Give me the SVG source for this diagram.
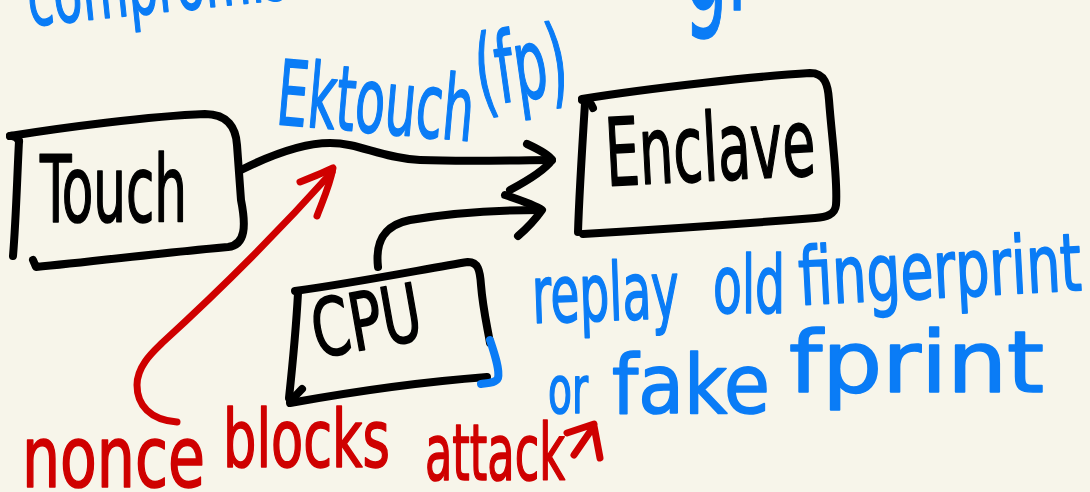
<svg xmlns="http://www.w3.org/2000/svg" width="1090" height="492" viewBox="0 0 1090 492">
  <style>
    .hand { font-family: "DejaVu Sans Condensed", "Liberation Sans Narrow", "Liberation Sans", sans-serif; stroke-width: 1.6; stroke-linejoin: round; }
    .ink { fill: none; stroke: #000; stroke-width: 8; stroke-linecap: round; stroke-linejoin: round; }
    .red { fill: none; stroke: #cf0000; stroke-width: 7; stroke-linecap: round; stroke-linejoin: round; }
    .blueline { fill: none; stroke: #0a7cf6; stroke-width: 8; stroke-linecap: round; stroke-linejoin: round; }
    .black { fill: #000; stroke: #000; }
    .blue { fill: #0a7cf6; stroke: #0a7cf6; }
    .redtxt { fill: #cf0000; stroke: #cf0000; }
  </style>
  <rect width="1090" height="492" fill="#f7f5ea"/>

  <!-- heading line, running off the top edge -->
  <g id="heading" class="hand blue">
    <text x="30" y="26" font-size="82" textLength="320" lengthAdjust="spacingAndGlyphs" transform="rotate(-6 30 26)">compromised</text>
    <text x="684" y="10" font-size="140" textLength="72" lengthAdjust="spacingAndGlyphs">gr</text>
  </g>

  <!-- connectors -->
  <g id="connectors">
    <path class="ink" d="M241,170 C265,158 300,143 330,143 C360,143 380,158 420,160 C470,162 520,160 552,160"/>
    <path class="ink" d="M527,144 C540,150 549,155 552,160 C545,170 525,182 510,190"/>
    <path class="ink" d="M378,267 C375,240 385,225 410,220 C450,213 500,210 540,210"/>
    <path class="ink" d="M505,195 C520,200 535,205 542,210 C535,220 525,230 518,236"/>
    <path class="red" d="M177,422 C150,420 137,405 137,385 C137,365 155,350 162,343 C220,290 280,230 332,172"/>
    <path class="red" d="M300,182 C315,176 325,172 333,168 C330,185 323,200 317,216"/>
    <path class="red" d="M567,433 L594,424 M574,455 L594,426 L600,458"/>
  </g>

  <g id="touch">
    <path class="ink" d="M10,136 C60,128 150,116 205,114 C228,114 236,128 237,145 L241,200 C246,225 246,245 228,247 C170,252 90,262 36,267 L33,260"/>
    <path class="ink" d="M19,141 C17,180 16,220 13,256"/>
    <path class="ink" d="M10,136 Q16,135 19,141"/>
    <text class="hand black" x="40" y="222" font-size="92" textLength="147" lengthAdjust="spacingAndGlyphs">Touch</text>
  </g>

  <g id="enclave">
    <path class="ink" d="M582,99 C650,88 760,76 810,73 C825,73 828,85 829,100 C832,140 838,180 836,205 C835,215 826,217 815,218 C740,224 650,230 583,234"/>
    <path class="ink" d="M585,103 C582,150 579,200 578,232"/>
    <path class="ink" d="M582,100 Q590,100 593,108"/>
    <text class="hand black" x="607" y="186" font-size="94" textLength="210" lengthAdjust="spacingAndGlyphs" transform="rotate(-3 607 186)">Enclave</text>
  </g>

  <g id="cpu">
    <path class="ink" d="M295,291 C360,282 430,268 468,262 C478,262 480,270 481,285 C483,310 488,330 490,343"/>
    <path class="ink" d="M487,377 C420,382 340,394 290,403"/>
    <path class="ink" d="M298,293 C296,330 292,370 289,398"/>
    <path class="ink" d="M290,400 Q296,396 302,389"/>
    <path class="blueline" d="M490,340 C495,355 500,370 498,378 C496,383 488,383 481,384"/>
    <text class="hand black" x="317" y="358" font-size="80" textLength="110" lengthAdjust="spacingAndGlyphs" transform="rotate(-10 317 358)">CPU</text>
  </g>

  <!-- labels -->
  <g id="label-ektouch" class="hand blue">
    <text x="275" y="124" font-size="90" textLength="197" lengthAdjust="spacingAndGlyphs" transform="rotate(5 275 124)">Ektouch</text>
    <text x="480" y="106" font-size="98" textLength="92" lengthAdjust="spacingAndGlyphs" transform="rotate(-8 480 106)">(fp)</text>
  </g>

  <g id="label-replay" class="hand blue">
    <text x="533" y="323" font-size="80" textLength="147" lengthAdjust="spacingAndGlyphs" transform="rotate(-2 533 323)">replay</text>
    <text x="713" y="313" font-size="80" textLength="72" lengthAdjust="spacingAndGlyphs">old</text>
    <text x="800" y="305" font-size="80" textLength="283" lengthAdjust="spacingAndGlyphs" transform="rotate(-3 800 305)">fingerprint</text>
    <text x="548" y="413" font-size="66" textLength="40" lengthAdjust="spacingAndGlyphs">or</text>
    <text x="612" y="413" font-size="82" textLength="158" lengthAdjust="spacingAndGlyphs">fake</text>
    <text x="789" y="392" font-size="86" textLength="255" lengthAdjust="spacingAndGlyphs">fprint</text>
  </g>

  <g id="label-nonce" class="hand redtxt">
    <text x="22" y="487" font-size="85" textLength="183" lengthAdjust="spacingAndGlyphs">nonce</text>
    <text x="223" y="467" font-size="80" textLength="167" lengthAdjust="spacingAndGlyphs">blocks</text>
    <text x="425" y="480" font-size="78" textLength="140" lengthAdjust="spacingAndGlyphs">attack</text>
  </g>
</svg>
